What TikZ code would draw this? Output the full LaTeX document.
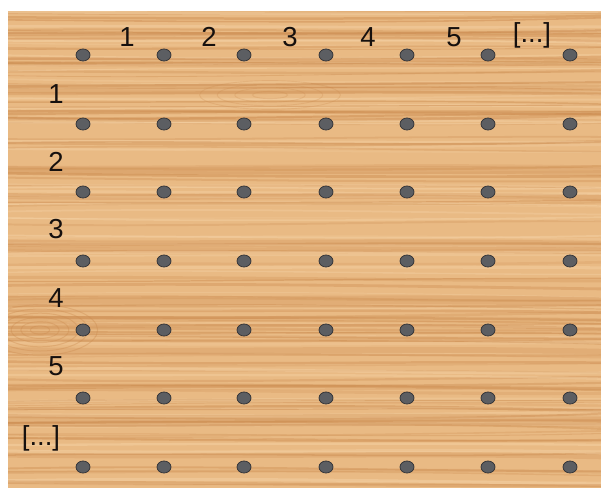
\documentclass[tikz,border=0pt]{standalone}
\usepackage{fontspec}
\setmainfont{Liberation Sans}
\usetikzlibrary{shapes.geometric}
\definecolor{woodbase}{RGB}{233,186,132}
\definecolor{wooddark}{RGB}{203,138,78}
\definecolor{woodlight}{RGB}{246,212,168}
\definecolor{peg}{RGB}{92,94,98}
\definecolor{pegline}{RGB}{55,55,58}
\definecolor{ink}{RGB}{22,16,14}
\begin{document}
\begin{tikzpicture}[x=1pt,y=-1pt,
  peghole/.style={ellipse,minimum width=14pt,minimum height=12pt,inner sep=0pt,
    fill=peg,draw=pegline,line width=0.8pt},
  lbl/.style={text=ink,font=\fontsize{27.5}{30}\selectfont,inner sep=0pt,anchor=center}]
\useasboundingbox (0,0) rectangle (601,490);
\fill[white] (0,0) rectangle (601,490);
\fill[woodbase] (8,11) rectangle (601,488);
\begin{scope}
\clip (8,11) rectangle (601,488);
\pgfmathsetseed{4217}
\foreach \i in {1,...,170}{
  \pgfmathsetmacro\yy{11+rnd*477}
  \pgfmathsetmacro\da{rand*5}
  \pgfmathsetmacro\db{rand*5}
  \pgfmathsetmacro\dc{rand*4}
  \pgfmathsetmacro\lw{0.6+rnd*2.6}
  \pgfmathsetmacro\op{0.15+rnd*0.35}
  \pgfmathsetmacro\pick{rnd}
  \ifdim\pick pt<0.6pt
    \draw[wooddark,line width=\lw pt,opacity=\op] (0,\yy) .. controls (200,\yy+\da) and (400,\yy+\db) .. (610,\yy+\dc);
  \else
    \draw[woodlight,line width=\lw pt,opacity=\op] (0,\yy) .. controls (200,\yy+\da) and (400,\yy+\db) .. (610,\yy+\dc);
  \fi
}
% broad darker bands
\foreach \yb/\w in {88/10,170/8,196/6,243/7,300/9,350/6,420/12,455/5}{
  \draw[wooddark,line width=\w pt,opacity=0.25] (0,\yb) .. controls (200,\yb+3) and (400,\yb-3) .. (610,\yb+2);
}
% knots
\foreach \r in {6,12,18,24,30,36}{
  \draw[wooddark,line width=1pt,opacity=0.35] (40,330) ellipse ({\r*1.6} and {\r*0.7});
}
\foreach \r in {8,16,24,32}{
  \draw[wooddark,line width=0.9pt,opacity=0.25] (270,95) ellipse ({\r*2.2} and {\r*0.45});
}
\end{scope}
% peg holes
\foreach \c/\x in {1/83,2/164,3/244,4/326,5/407,6/488,7/570}{
  \foreach \r/\y in {1/55,2/124,3/192,4/261,5/330,6/398,7/467}{
    \node[peghole] (d-\r-\c) at (\x,\y) {};
  }
}
% column labels
\node[lbl] (c1) at (127,37) {1};
\node[lbl] (c2) at (209,37) {2};
\node[lbl] (c3) at (290,37) {3};
\node[lbl] (c4) at (368,37) {4};
\node[lbl] (c5) at (454,37) {5};
\node[lbl] (c6) at (532,35) {[...]};
% row labels
\node[lbl] (r1) at (56,94) {1};
\node[lbl] (r2) at (56,162) {2};
\node[lbl] (r3) at (56,229) {3};
\node[lbl] (r4) at (56,298) {4};
\node[lbl] (r5) at (56,366) {5};
\node[lbl] (r6) at (41,438) {[...]};
\end{tikzpicture}
\end{document}
